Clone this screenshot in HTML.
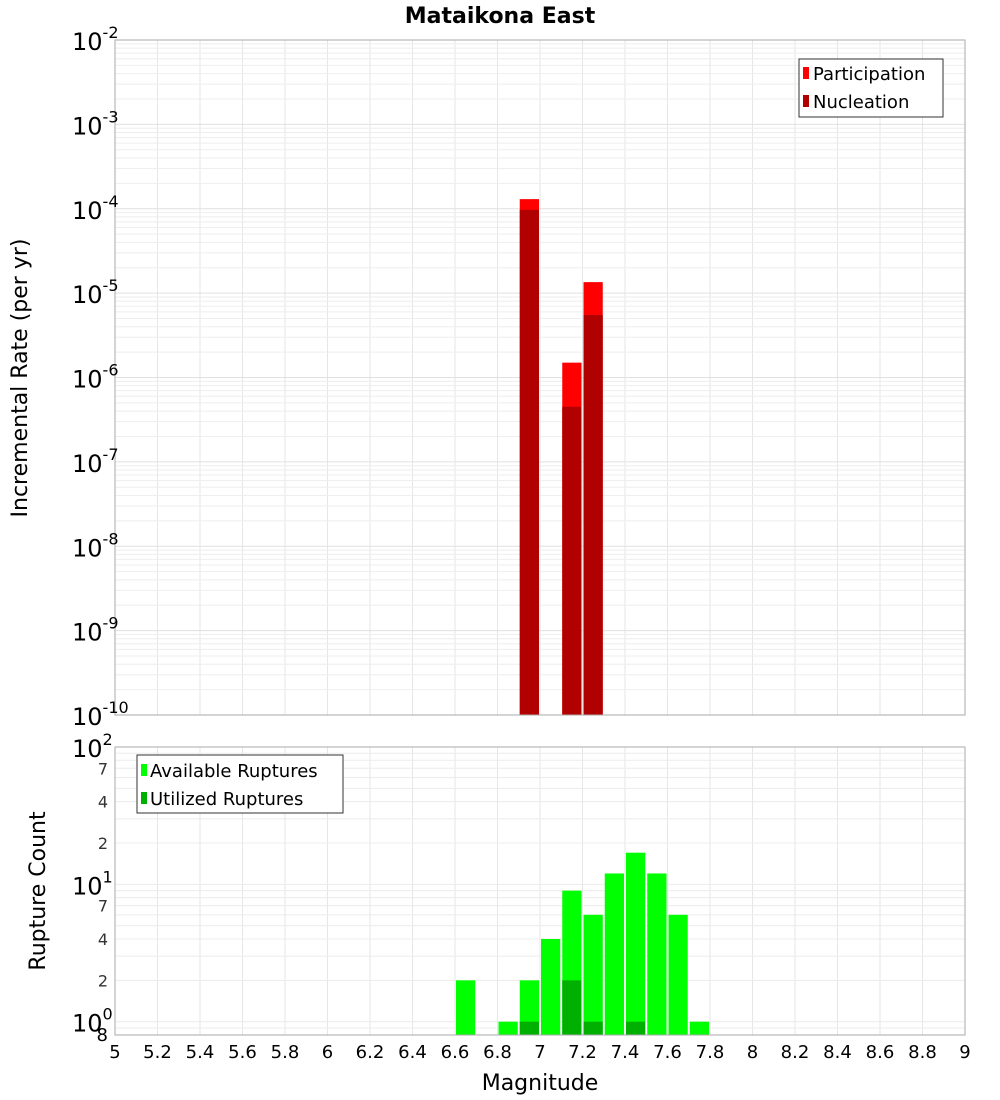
<!DOCTYPE html>
<html><head><meta charset="utf-8"><style>
body{margin:0;background:#fff;}
svg{display:block;font-family:"DejaVu Sans","Liberation Sans",sans-serif;}
</style></head><body>
<svg id="chart" width="1000" height="1100" xmlns="http://www.w3.org/2000/svg">
<text x="500" y="23" text-anchor="middle" font-size="22" font-weight="bold">Mataikona East</text>
<g id="grid"></g>
<g id="bars"></g>
<rect x="115" y="40" width="850" height="675" fill="none" stroke="#aaa"/>
<rect x="115" y="747" width="850" height="288" fill="none" stroke="#aaa"/>
<g id="axes"></g>
<text transform="translate(27,378) rotate(-90)" text-anchor="middle" font-size="22">Incremental Rate (per yr)</text>
<text transform="translate(45,891) rotate(-90)" text-anchor="middle" font-size="22">Rupture Count</text>
<text x="540" y="1090" text-anchor="middle" font-size="22">Magnitude</text>
<g>
<rect x="799" y="59" width="144" height="58" fill="#fff" stroke="#333"/>
<rect x="803" y="67" width="6" height="12" fill="#ff0000"/>
<text x="813" y="80" font-size="18">Participation</text>
<rect x="803" y="95" width="6" height="12" fill="#b00000"/>
<text x="813" y="108" font-size="18">Nucleation</text>
</g>
<g>
<rect x="137" y="755" width="206" height="58" fill="#fff" stroke="#333"/>
<rect x="141" y="764" width="6" height="12" fill="#00ff00"/>
<text x="150" y="777" font-size="18">Available Ruptures</text>
<rect x="141" y="792" width="6" height="12" fill="#00b000"/>
<text x="150" y="805" font-size="18">Utilized Ruptures</text>
</g>
</svg>
<script>
const topMags=[6.95,7.15,7.25];
const participation=[1.3e-4,1.5e-6,1.35e-5];
const nucleation=[9.7e-5,4.5e-7,5.5e-6];
const botMags=[6.65,6.85,6.95,7.05,7.15,7.25,7.35,7.45,7.55,7.65,7.75];
const available=[2,1,2,4,9,6,12,17,12,6,1];
const utilized=[0,0,1,0,2,1,0,1,0,0,0];
const xTicks=[5,5.2,5.4,5.6,5.8,6,6.2,6.4,6.6,6.8,7,7.2,7.4,7.6,7.8,8,8.2,8.4,8.6,8.8,9];
const topDecades=[-10,-9,-8,-7,-6,-5,-4,-3,-2];
const botDecades=[0,1,2];
const botMinor=[2,4,7];

const NS="http://www.w3.org/2000/svg";
const X=v=>115+(v-5)*212.5;
const YT=v=>40+(-2-Math.log10(v))*84.375;
const YB=v=>1035-(Math.log10(v)-Math.log10(0.8))/Math.log10(100/0.8)*288;
function mk(parent,tag,attrs){const e=document.createElementNS(NS,tag);for(const k in attrs)e.setAttribute(k,attrs[k]);document.getElementById(parent).appendChild(e);return e;}
// grid
xTicks.forEach(t=>{
 const g1=mk('grid','line',{x1:X(t),x2:X(t),y1:40,y2:715,stroke:'#e6e6e6'});
 
 
 const g2=mk('grid','line',{x1:X(t),x2:X(t),y1:747,y2:1035,stroke:'#e6e6e6'});
 
 
});
topDecades.forEach(d=>{for(let m=1;m<10;m++){const v=m*Math.pow(10,d);const y=YT(v);if(y<40||y>715)continue;
 const l=mk('grid','line',{x1:115,x2:965,y1:y,y2:y,stroke:m==1?'#e0e0e0':'#eeeeee'});
 
 }});
[-1,0,1].forEach(d=>{for(let m=1;m<10;m++){const v=m*Math.pow(10,d);const y=YB(v);if(y<747||y>1035)continue;
 const l=mk('grid','line',{x1:115,x2:965,y1:y,y2:y,stroke:'#ececec'});
 
 }});
// bars
const bw=0.1*212.5;
topMags.forEach((m,i)=>{
 const p=mk('bars','rect',{x:X(m-0.05)+1,width:bw-2,y:YT(participation[i]),height:715-YT(participation[i]),fill:'#ff0000'});
 
 
 const n=mk('bars','rect',{x:X(m-0.05)+1,width:bw-2,y:YT(nucleation[i]),height:715-YT(nucleation[i]),fill:'#b00000'});
 
 
});
botMags.forEach((m,i)=>{
 const a=mk('bars','rect',{x:X(m-0.05)+1,width:bw-2,y:YB(available[i]),height:1035-YB(available[i]),fill:'#00ff00'});
 
 
 if(utilized[i]>0){const u=mk('bars','rect',{x:X(m-0.05)+1,width:bw-2,y:YB(utilized[i]),height:1035-YB(utilized[i]),fill:'#00b000'});
 
 }
});
// axes labels
xTicks.forEach(t=>{const e=mk('axes','text',{x:X(t),y:1058,'text-anchor':'middle','font-size':18});e.textContent=String(t);
 
 });
topDecades.forEach(d=>{const y=YT(Math.pow(10,d));const e=mk('axes','text',{x:72,y:y+10,'font-size':24});
 e.textContent='10';
 const s=document.createElementNS(NS,'tspan');s.setAttribute('dy','-12');s.setAttribute('font-size','16');s.textContent=String(d);e.appendChild(s);
 
 });
botDecades.forEach(d=>{const y=YB(Math.pow(10,d));const e=mk('axes','text',{x:72,y:y+10,'font-size':24});
 e.textContent='10';
 const s=document.createElementNS(NS,'tspan');s.setAttribute('dy','-12');s.setAttribute('font-size','16');s.textContent=String(d);e.appendChild(s);
 
 });
[0,1].forEach(d=>botMinor.forEach(m=>{const y=YB(m*Math.pow(10,d));const e=mk('axes','text',{x:108,y:y+6,'text-anchor':'end','font-size':16,fill:'#333'});e.textContent=String(m);
 
 }));
const e8=mk('axes','text',{x:108,y:1041,'text-anchor':'end','font-size':18});e8.textContent='8';


</script>
</body></html>
